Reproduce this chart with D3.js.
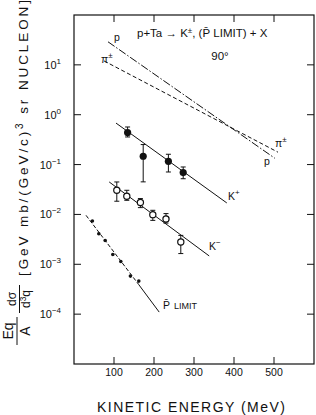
<!DOCTYPE html>
<html>
<head>
<meta charset="utf-8">
<script src="https://cdn.jsdelivr.net/npm/d3@7"></script>
<style>
  body { margin: 0; background: #fff; }
  svg text { font-family: "Liberation Sans", Arial, sans-serif; fill: #111; }
</style>
</head>
<body>
<svg id="chart"></svg>
<script>
// K+ (filled circles)
const kpE = [134, 173, 236, 273];
const kpV = [0.44, 0.147, 0.116, 0.069];
const kpLo = [0.358, 0.045, 0.071, 0.052];
const kpHi = [0.567, 0.252, 0.161, 0.0895];

// K- (open circles)
const kmE = [107, 132, 166, 197, 230, 267];
const kmV = [0.0305, 0.0231, 0.0173, 0.0099, 0.0081, 0.0028];
const kmLo = [0.0184, 0.0192, 0.0137, 0.0076, 0.0067, 0.00164];
const kmHi = [0.0448, 0.0305, 0.0208, 0.0121, 0.0104, 0.0038];

// pbar limit (small dots)
const pbE = [46, 62, 78, 97, 117, 141, 162];
const pbV = [0.0074, 0.0041, 0.0030, 0.00157, 0.00114, 0.00058, 0.00046];

// fitted lines
const pLineE = [85, 502], pLineV = [29, 0.134];
const piLineE = [75, 510], piLineV = [12, 0.177];
const kpLineE = [105, 382], kpLineV = [0.68, 0.017];
const kmLineE = [88, 338], kmLineV = [0.0448, 0.00147];
const pbLineE = [30, 162, 213], pbLineV = [0.0096, 0.00039, 0.00011];

const xTicks = [100, 200, 300, 400, 500];
const yTicks = [1e1, 1e0, 1e-1, 1e-2, 1e-3, 1e-4];
const yExp = ["1", "0", "-1", "-2", "-3", "-4"];

const width = 316, height = 415;
const svg = d3.select("#chart").attr("width", width).attr("height", height);

const x = d3.scaleLinear().domain([0, 600]).range([74, 314]);
const y = d3.scaleLog().domain([1e-5, 1e2]).range([364, 15]);

// frame
svg.append("rect")
  .attr("x", x(0)).attr("y", y(1e2))
  .attr("width", x(600) - x(0)).attr("height", y(1e-5) - y(1e2))
  .attr("fill", "none").attr("stroke", "#111").attr("stroke-width", 1.2);

// ticks, all pointing inward
const tk = 7;
xTicks.forEach(v => {
  svg.append("line").attr("x1", x(v)).attr("x2", x(v)).attr("y1", y(1e-5)).attr("y2", y(1e-5) - tk)
    .attr("stroke", "#111");
  svg.append("line").attr("x1", x(v)).attr("x2", x(v)).attr("y1", y(1e2)).attr("y2", y(1e2) + tk)
    .attr("stroke", "#111");
  svg.append("text").attr("x", x(v)).attr("y", 376).attr("text-anchor", "middle")
    .attr("font-size", 10.5).text(v);
});

yTicks.forEach((v, i) => {
  svg.append("line").attr("x1", x(0)).attr("x2", x(0) + tk).attr("y1", y(v)).attr("y2", y(v))
    .attr("stroke", "#111");
  svg.append("line").attr("x1", x(600)).attr("x2", x(600) - tk).attr("y1", y(v)).attr("y2", y(v))
    .attr("stroke", "#111");
  const t = svg.append("text").attr("x", 61).attr("y", y(v) + 4).attr("text-anchor", "end")
    .attr("font-size", 11);
  t.append("tspan").text("10");
  t.append("tspan").attr("dy", -5).attr("font-size", 8).text(yExp[i].replace("-", "\u2212"));
});

// fitted lines
const line = d3.line().x(d => x(d[0])).y(d => y(d[1]));
function fit(E, V, dash) {
  svg.append("path").datum(d3.zip(E, V)).attr("d", line)
    .attr("fill", "none").attr("stroke", "#111").attr("stroke-width", 1)
    .attr("stroke-dasharray", dash);
}
fit(pLineE, pLineV, "8,2,1.5,2");
fit(piLineE, piLineV, "4,2.5");
fit(kpLineE, kpLineV, null);
fit(kmLineE, kmLineV, null);
fit(pbLineE.slice(0, 2), pbLineV.slice(0, 2), "4,2");
fit(pbLineE.slice(1), pbLineV.slice(1), null);

// error bars
function errs(E, lo, hi) {
  E.forEach((e, i) => {
    svg.append("line").attr("x1", x(e)).attr("x2", x(e)).attr("y1", y(lo[i])).attr("y2", y(hi[i]))
      .attr("stroke", "#111");
    [lo[i], hi[i]].forEach(v => {
      svg.append("line").attr("x1", x(e) - 2.5).attr("x2", x(e) + 2.5).attr("y1", y(v)).attr("y2", y(v))
        .attr("stroke", "#111");
    });
  });
}
errs(kpE, kpLo, kpHi);
errs(kmE, kmLo, kmHi);

svg.append("g").selectAll("circle").data(d3.zip(kpE, kpV)).join("circle")
  .attr("cx", d => x(d[0])).attr("cy", d => y(d[1])).attr("r", 3.6).attr("fill", "#111");
svg.append("g").selectAll("circle").data(d3.zip(kmE, kmV)).join("circle")
  .attr("cx", d => x(d[0])).attr("cy", d => y(d[1])).attr("r", 3.1)
  .attr("fill", "#fff").attr("stroke", "#111").attr("stroke-width", 1.2);
svg.append("g").selectAll("circle").data(d3.zip(pbE, pbV)).join("circle")
  .attr("cx", d => x(d[0])).attr("cy", d => y(d[1])).attr("r", 1.8).attr("fill", "#111");

// curve labels
function label(px, py, main, sup, size) {
  const t = svg.append("text").attr("x", px).attr("y", py).attr("font-size", size || 10.5);
  t.append("tspan").text(main);
  if (sup) t.append("tspan").attr("dy", -5).attr("font-size", 8).text(sup);
  return t;
}
label(114, 41, "p");
label(101, 63, "\u03c0", "\u00b1");
label(275, 147, "\u03c0", "\u00b1");
label(264, 165, "p");
label(228, 200, "K", "+");
label(209, 250, "K", "\u2212");
const pl = svg.append("text").attr("x", 163).attr("y", 309).attr("font-size", 10.5);
pl.append("tspan").text("P\u0304");
pl.append("tspan").attr("dx", 4).attr("font-size", 9).text("LIMIT");

// title
const tt = svg.append("text").attr("x", 137).attr("y", 37).attr("font-size", 11.5);
tt.append("tspan").text("p+Ta \u2192 K");
tt.append("tspan").attr("dy", -4).attr("font-size", 8).text("\u00b1");
tt.append("tspan").attr("dy", 4).text(", (P\u0304 LIMIT) + X");
svg.append("text").attr("x", 220).attr("y", 60).attr("text-anchor", "middle")
  .attr("font-size", 11.5).text("90\u00b0");

// x axis title
svg.append("text").attr("x", 191).attr("y", 412).attr("text-anchor", "middle")
  .attr("font-size", 14).attr("textLength", 188).attr("lengthAdjust", "spacing")
  .text("KINETIC ENERGY (MeV)");

// y axis title, rotated
const yl = svg.append("g").attr("transform", "translate(0,138) rotate(-90)");
const ylt = yl.append("text").attr("x", 0).attr("y", 28).attr("text-anchor", "middle")
  .attr("font-size", 13.5).attr("textLength", 276).attr("lengthAdjust", "spacing");
ylt.append("tspan").text("[GeV mb/(GeV/c)");
ylt.append("tspan").attr("dy", -5).attr("font-size", 10).text("3");
ylt.append("tspan").attr("dy", 5).text(" sr NUCLEON]");

function frac(cy, num, den, nb, db, lx, size) {
  const g = svg.append("g").attr("transform", `translate(0,${cy}) rotate(-90)`);
  g.append("text").attr("x", 0).attr("y", nb).attr("text-anchor", "middle").attr("font-size", size)
    .text(num);
  const d = g.append("text").attr("x", 0).attr("y", db).attr("text-anchor", "middle").attr("font-size", size);
  d.append("tspan").text(den[0]);
  if (den[1]) {
    d.append("tspan").attr("dy", -4).attr("font-size", size * 0.7).text(den[1]);
    d.append("tspan").attr("dy", 4).text(den[2]);
  }
  g.append("line").attr("x1", -14).attr("x2", 14).attr("y1", lx).attr("y2", lx)
    .attr("stroke", "#111").attr("stroke-width", 1);
}
frac(299, "d\u03c3", ["d", "3", "q"], 16, 30, 19.5, 12);
frac(331, "Eq", ["A"], 13, 30, 17, 14);
</script>
</body>
</html>
